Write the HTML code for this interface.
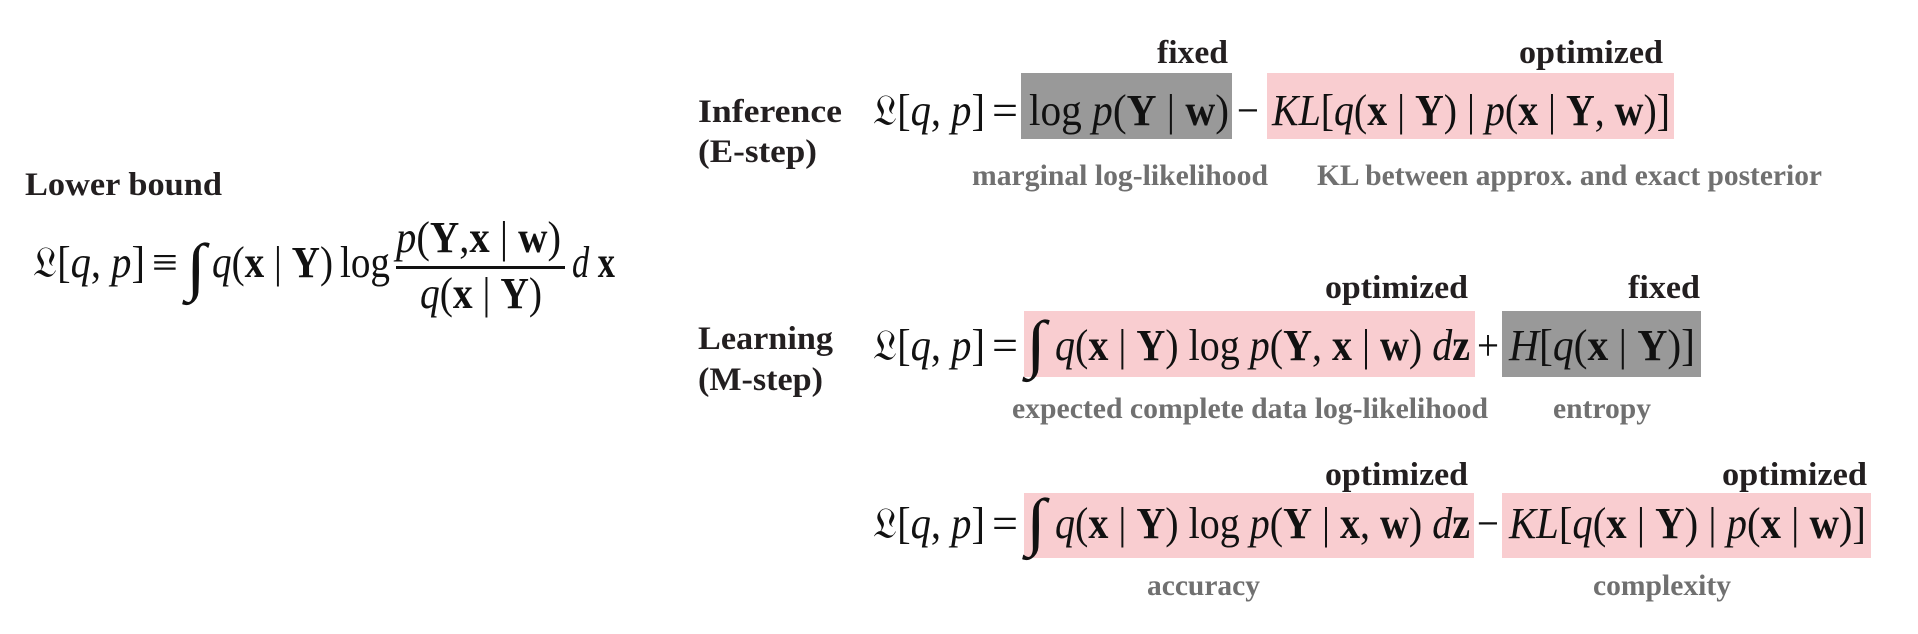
<!DOCTYPE html>
<html><head><meta charset="utf-8"><style>
html,body{margin:0;padding:0;background:#fff;}
svg{display:block;font-family:"Liberation Serif","DejaVu Serif",serif;}
.h{font-weight:bold;fill:#231f20;font-size:33px;}
.lab{font-weight:bold;fill:#707070;font-size:30px;}
.eq{fill:#111;font-size:44px;}
.i{font-style:italic;}
.b{font-weight:bold;}
</style></head><body>
<svg width="1918" height="634" viewBox="0 0 1918 634">
<g>
<text class="h" x="25" y="195" textLength="197" lengthAdjust="spacingAndGlyphs">Lower bound</text>
<g class="eq">
<text x="33" y="277" textLength="112" lengthAdjust="spacingAndGlyphs">𝔏[<tspan class="i">q</tspan>, <tspan class="i">p</tspan>]</text>
<text x="152" y="277" textLength="26" lengthAdjust="spacingAndGlyphs">≡</text>
<text x="186" y="288" font-size="64" textLength="20" lengthAdjust="spacingAndGlyphs">∫</text>
<text x="212" y="277" textLength="121" lengthAdjust="spacingAndGlyphs"><tspan class="i">q</tspan>(<tspan class="b">x</tspan> | <tspan class="b">Y</tspan>)</text>
<text x="340" y="277" textLength="50" lengthAdjust="spacingAndGlyphs">log</text>
<text x="396" y="252" textLength="165" lengthAdjust="spacingAndGlyphs"><tspan class="i">p</tspan>(<tspan class="b">Y</tspan>,<tspan class="b">x</tspan> | <tspan class="b">w</tspan>)</text>
<rect x="396" y="266" width="169" height="3" fill="#111"/>
<text x="420" y="308" textLength="122" lengthAdjust="spacingAndGlyphs"><tspan class="i">q</tspan>(<tspan class="b">x</tspan> | <tspan class="b">Y</tspan>)</text>
<text x="572" y="277" textLength="43" lengthAdjust="spacingAndGlyphs"><tspan class="i">d</tspan> <tspan class="b">x</tspan></text>
</g>
</g>

<g>
<text class="h" x="698" y="122" textLength="144" lengthAdjust="spacingAndGlyphs">Inference</text>
<text class="h" x="698" y="162" textLength="119" lengthAdjust="spacingAndGlyphs">(E-step)</text>
<rect x="1021" y="73" width="211" height="66" fill="#999999"/>
<rect x="1267" y="73" width="407" height="66" fill="#f9cdd0"/>
<text class="h" x="1157" y="63" textLength="71" lengthAdjust="spacingAndGlyphs">fixed</text>
<text class="h" x="1519" y="63" textLength="144" lengthAdjust="spacingAndGlyphs">optimized</text>
<g class="eq">
<text x="873" y="125" textLength="112" lengthAdjust="spacingAndGlyphs">𝔏[<tspan class="i">q</tspan>, <tspan class="i">p</tspan>]</text>
<text x="992" y="125" textLength="26" lengthAdjust="spacingAndGlyphs">=</text>
<text x="1029" y="125" textLength="200" lengthAdjust="spacingAndGlyphs">log <tspan class="i">p</tspan>(<tspan class="b">Y</tspan> | <tspan class="b">w</tspan>)</text>
<text x="1237" y="125" textLength="22" lengthAdjust="spacingAndGlyphs">−</text>
<text x="1272" y="125" textLength="398" lengthAdjust="spacingAndGlyphs"><tspan class="i">KL</tspan>[<tspan class="i">q</tspan>(<tspan class="b">x</tspan> | <tspan class="b">Y</tspan>) | <tspan class="i">p</tspan>(<tspan class="b">x</tspan> | <tspan class="b">Y</tspan>, <tspan class="b">w</tspan>)]</text>
</g>
<text class="lab" x="972" y="185" textLength="296" lengthAdjust="spacingAndGlyphs">marginal log-likelihood</text>
<text class="lab" x="1317" y="185" textLength="505" lengthAdjust="spacingAndGlyphs">KL between approx. and exact posterior</text>
</g>

<g>
<text class="h" x="698" y="349" textLength="135" lengthAdjust="spacingAndGlyphs">Learning</text>
<text class="h" x="698" y="390" textLength="125" lengthAdjust="spacingAndGlyphs">(M-step)</text>
<rect x="1024" y="311" width="451" height="66" fill="#f9cdd0"/>
<rect x="1502" y="311" width="199" height="66" fill="#999999"/>
<text class="h" x="1325" y="298" textLength="143" lengthAdjust="spacingAndGlyphs">optimized</text>
<text class="h" x="1628" y="298" textLength="72" lengthAdjust="spacingAndGlyphs">fixed</text>
<g class="eq">
<text x="873" y="360" textLength="112" lengthAdjust="spacingAndGlyphs">𝔏[<tspan class="i">q</tspan>, <tspan class="i">p</tspan>]</text>
<text x="992" y="360" textLength="26" lengthAdjust="spacingAndGlyphs">=</text>
<text x="1026" y="365" font-size="64" textLength="20" lengthAdjust="spacingAndGlyphs">∫</text>
<text x="1055" y="360" textLength="415" lengthAdjust="spacingAndGlyphs"><tspan class="i">q</tspan>(<tspan class="b">x</tspan> | <tspan class="b">Y</tspan>) log <tspan class="i">p</tspan>(<tspan class="b">Y</tspan>, <tspan class="b">x</tspan> | <tspan class="b">w</tspan>) <tspan class="i">d</tspan><tspan class="b">z</tspan></text>
<text x="1477" y="360" textLength="22" lengthAdjust="spacingAndGlyphs">+</text>
<text x="1509" y="360" textLength="186" lengthAdjust="spacingAndGlyphs"><tspan class="i">H</tspan>[<tspan class="i">q</tspan>(<tspan class="b">x</tspan> | <tspan class="b">Y</tspan>)]</text>
</g>
<text class="lab" x="1012" y="418" textLength="476" lengthAdjust="spacingAndGlyphs">expected complete data log-likelihood</text>
<text class="lab" x="1553" y="418" textLength="98" lengthAdjust="spacingAndGlyphs">entropy</text>
</g>

<g>
<rect x="1024" y="493" width="450" height="65" fill="#f9cdd0"/>
<rect x="1502" y="493" width="369" height="65" fill="#f9cdd0"/>
<text class="h" x="1325" y="485" textLength="143" lengthAdjust="spacingAndGlyphs">optimized</text>
<text class="h" x="1722" y="485" textLength="145" lengthAdjust="spacingAndGlyphs">optimized</text>
<g class="eq">
<text x="873" y="538" textLength="112" lengthAdjust="spacingAndGlyphs">𝔏[<tspan class="i">q</tspan>, <tspan class="i">p</tspan>]</text>
<text x="992" y="538" textLength="26" lengthAdjust="spacingAndGlyphs">=</text>
<text x="1026" y="543" font-size="64" textLength="20" lengthAdjust="spacingAndGlyphs">∫</text>
<text x="1055" y="538" textLength="415" lengthAdjust="spacingAndGlyphs"><tspan class="i">q</tspan>(<tspan class="b">x</tspan> | <tspan class="b">Y</tspan>) log <tspan class="i">p</tspan>(<tspan class="b">Y</tspan> | <tspan class="b">x</tspan>, <tspan class="b">w</tspan>) <tspan class="i">d</tspan><tspan class="b">z</tspan></text>
<text x="1477" y="538" textLength="22" lengthAdjust="spacingAndGlyphs">−</text>
<text x="1509" y="538" textLength="357" lengthAdjust="spacingAndGlyphs"><tspan class="i">KL</tspan>[<tspan class="i">q</tspan>(<tspan class="b">x</tspan> | <tspan class="b">Y</tspan>) | <tspan class="i">p</tspan>(<tspan class="b">x</tspan> | <tspan class="b">w</tspan>)]</text>
</g>
<text class="lab" x="1147" y="595" textLength="113" lengthAdjust="spacingAndGlyphs">accuracy</text>
<text class="lab" x="1593" y="595" textLength="138" lengthAdjust="spacingAndGlyphs">complexity</text>
</g>
</svg>
</body></html>
